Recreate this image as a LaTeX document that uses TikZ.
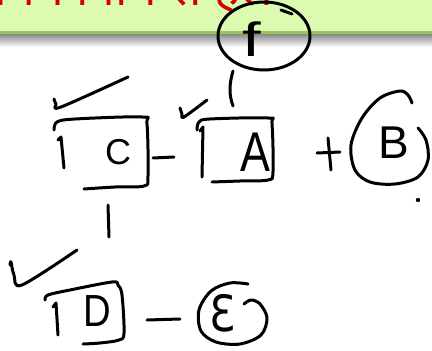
\documentclass[tikz,border=0pt]{standalone}
\usepackage{fontspec}
\newfontfamily\hindi[Script=Devanagari]{Noto Sans}
\newfontfamily\letterfont{Liberation Sans}
\newfontfamily\dvfont{DejaVu Sans}
\definecolor{bannergreen}{HTML}{DCFAB0}
\definecolor{bannerline}{HTML}{9CC45C}
\definecolor{titlered}{HTML}{D40000}
\begin{document}
\begin{tikzpicture}[x=1pt,y=-1pt,
  ink/.style={line width=3pt, line cap=round, line join=round, draw=black},
  letter/.style={inner sep=0pt, text=black},
  hand/.style={ink, smooth, tension=0.55}
]
\useasboundingbox (0,0) rectangle (432,351);
% banner
\fill[bannergreen] (0,0) rectangle (432,32);
\shade[top color=black!50, bottom color=white] (0,33) rectangle (432,47);
\fill[bannerline] (0,31) rectangle (432,34);
\begin{scope}
\clip (0,0) rectangle (432,31);
\node[anchor=base west, text=titlered, font=\hindi\fontsize{48}{54}\selectfont, inner sep=0pt] (title) at (-32,5) {नियम विधि से हल};
\end{scope}

% letters
\node[letter, font=\letterfont\fontsize{36}{36}\selectfont] (C) at (118,152) {C};
\node[letter, font=\letterfont\fontsize{56}{56}\selectfont] (A) at (255,152) {\scalebox{0.8}[1]{A}};
\node[letter, font=\letterfont\fontsize{46}{46}\selectfont] (B) at (394,143) {B};
\node[letter, font=\letterfont\fontsize{45}{45}\selectfont] (D) at (97,311) {\scalebox{0.85}[1]{D}};
\node[letter, font=\dvfont\fontsize{50}{50}\selectfont] (E) at (223,313) {\scalebox{0.85}[1]{Ɛ}};
\node[letter, font=\letterfont\fontsize{48}{48}\selectfont] (F) at (252,39) {\scalebox{1.4}[1]{f}};

% F circle
\draw[ink] (264,36) ellipse [x radius=46, y radius=34];
\draw[ink] (281,10) -- (292,14);

% C box
\draw[hand] plot coordinates {(54,130) (57,122) (75,119) (142,117) (147,124) (148,176) (144,186) (115,187) (84,189)};
\draw[ink] (58,140) -- (61,137) -- (64,168);
% A box
\draw[hand] plot coordinates {(197,130) (199,122) (210,119) (268,118) (272,124) (273,172) (268,180) (240,181) (212,182)};
\draw[ink] (200,131) -- (203,127) -- (202,177);
% D box
\draw[hand] plot coordinates {(45,300) (48,295) (70,290) (112,282) (118,285) (122,295) (124,333) (119,340) (100,343) (83,344)};
\draw[ink] (53,307) -- (56,303) -- (58,335);
% B circle
\draw[hand] plot coordinates {(412,103) (408,95) (400,91) (380,98) (362,118) (351,145) (355,170) (370,182) (395,184) (418,177) (428,160) (426,140) (418,128)};
% E circle
\draw[hand] plot coordinates {(248,284) (230,283) (211,291) (199,310) (201,331) (216,342) (240,344) (261,335) (267,318) (260,304) (251,300) (244,304)};

% connector end points
\coordinate (F-bot) at (233,71);
\coordinate (A-top) at (233,106);
\coordinate (C-right) at (153,158);
\coordinate (A-left) at (174,157);
\coordinate (C-bot) at (108,205);
\coordinate (D-top) at (109,237);
\coordinate (D-right) at (147,320);
\coordinate (E-left) at (180,319);

% connectors
\draw[ink] (F-bot) .. controls (229,85) and (229,95) .. (A-top);
\draw[ink] (C-right) -- (A-left);
\draw[ink] (C-bot) -- (D-top);
\draw[ink] (D-right) -- (E-left);
% plus between A and B
\draw[ink] (317,153) -- (340,152);
\draw[ink] (328,138) -- (331,170);
% dot
\fill (418,200) circle (2.2);

% check marks
\draw[hand] plot coordinates {(54,99) (56,104) (61,107) (128,77)};
\draw[hand] plot coordinates {(180,108) (182,114) (184,117) (207,100)};
\draw[hand] plot coordinates {(10,265) (11,262) (14,275) (22,285) (77,250)};
\end{tikzpicture}
\end{document}
